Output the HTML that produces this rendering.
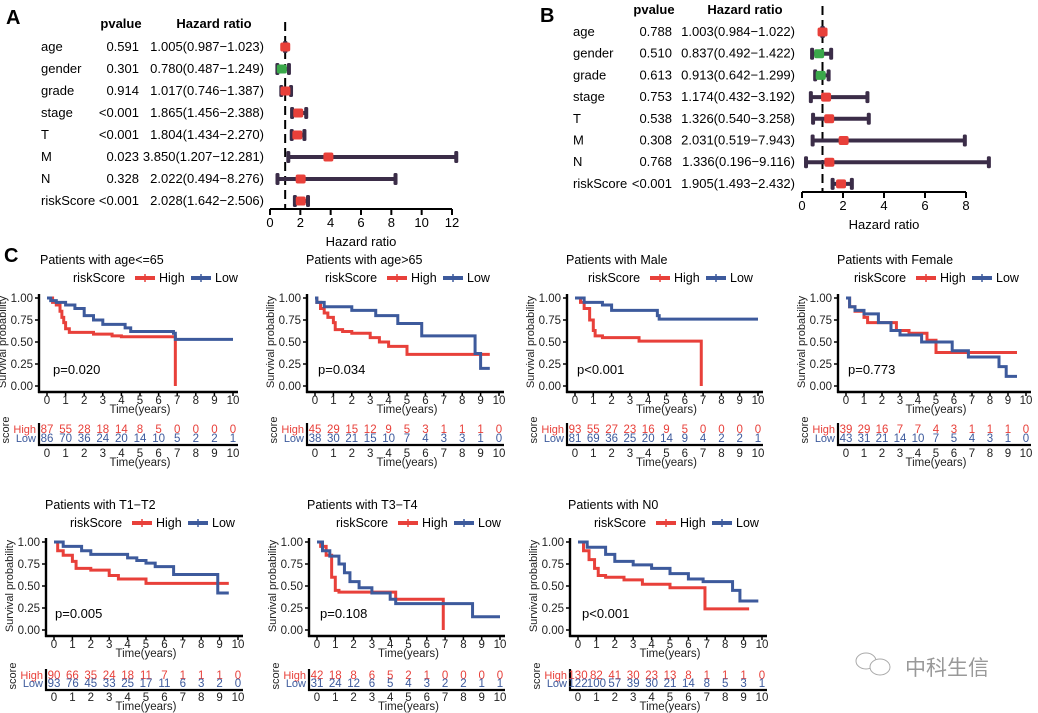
<!DOCTYPE html>
<html><head><meta charset="utf-8"><style>
html,body{margin:0;padding:0;background:#fff;}
svg{display:block;font-family:"Liberation Sans","Noto Sans CJK SC",sans-serif;}
</style></head><body>
<svg id="fig" width="1038" height="713" viewBox="0 0 1038 713" xmlns="http://www.w3.org/2000/svg"></svg>
<script>
// ---------- Forest data ----------
const forestVars = ["age","gender","grade","stage","T","M","N","riskScore"];
const aPvals = ["0.591","0.301","0.914","<0.001","<0.001","0.023","0.328","<0.001"];
const aHR = [1.005,0.780,1.017,1.865,1.804,3.850,2.022,2.028];
const aLo = [0.987,0.487,0.746,1.456,1.434,1.207,0.494,1.642];
const aHi = [1.023,1.249,1.387,2.388,2.270,12.281,8.276,2.506];
const aTicks = [0,2,4,6,8,10,12];
const bPvals = ["0.788","0.510","0.613","0.753","0.538","0.308","0.768","<0.001"];
const bHR = [1.003,0.837,0.913,1.174,1.326,2.031,1.336,1.905];
const bLo = [0.984,0.492,0.642,0.432,0.540,0.519,0.196,1.493];
const bHi = [1.022,1.422,1.299,3.192,3.258,7.943,9.116,2.432];
const bTicks = [0,2,4,6,8];

// ---------- KM data ----------
const kmTitles = ["Patients with age<=65","Patients with age>65","Patients with Male","Patients with Female","Patients with T1\u2212T2","Patients with T3\u2212T4","Patients with N0"];
const kmPvals = ["p=0.020","p=0.034","p<0.001","p=0.773","p=0.005","p=0.108","p<0.001"];
const highT = [
 [0,0.3,0.5,0.7,0.8,0.9,1.0,1.2,2.5,3.5,4.0,6.9,6.9],
 [0,0.1,0.3,0.5,0.7,1.0,1.1,1.5,2.0,3.0,3.5,4.0,5.0,9.5],
 [0,0.3,0.5,0.8,1.0,1.1,1.5,3.5,6.9,6.9],
 [0,0.2,0.5,1.0,1.2,2.0,2.8,3.5,4.5,5.0,9.5],
 [0,0.2,0.5,1.0,1.2,2.0,3.0,3.5,5.0,9.5],
 [0,0.2,0.5,0.8,1.0,1.2,4.3,6.9,6.9],
 [0,0.3,0.6,0.9,1.1,1.5,2.5,3.5,5.0,6.9,9.3]];
const highS = [
 [1,0.95,0.92,0.85,0.78,0.72,0.65,0.61,0.59,0.57,0.56,0.56,0.0],
 [1,0.95,0.88,0.83,0.78,0.72,0.64,0.62,0.60,0.55,0.50,0.45,0.36,0.36],
 [1,0.95,0.88,0.75,0.63,0.57,0.55,0.51,0.50,0.0],
 [1,0.90,0.85,0.78,0.72,0.72,0.63,0.60,0.52,0.38,0.38],
 [1,0.90,0.85,0.78,0.70,0.68,0.62,0.58,0.53,0.53],
 [1,0.95,0.85,0.60,0.45,0.43,0.35,0.35,0.0],
 [1,0.90,0.80,0.70,0.62,0.60,0.57,0.52,0.48,0.24,0.24]];
const lowT = [
 [0,0.2,0.5,1.0,1.5,2.0,2.5,3.0,4.2,4.5,6.8,6.9,10],
 [0,0.1,0.5,2.0,3.3,4.5,5.8,8.7,9.0,9.5],
 [0,0.5,1.5,2.0,4.5,4.6,10],
 [0,0.2,0.5,1.0,1.8,2.5,3.0,4.2,5.9,6.8,8.5,8.9,9.5],
 [0,0.5,1.5,2.0,4.0,4.5,5.0,5.5,6.5,8.9,9.5],
 [0,0.3,0.7,1.2,1.5,1.8,2.3,3.0,4.0,4.3,8.5,10],
 [0,0.5,1.5,2.0,3.0,4.0,5.0,6.0,6.8,8.4,8.8,9.8]];
const lowS = [
 [1,0.97,0.95,0.92,0.88,0.80,0.75,0.70,0.66,0.62,0.60,0.53,0.53],
 [1,0.95,0.90,0.86,0.80,0.71,0.57,0.37,0.20,0.20],
 [1,0.95,0.92,0.86,0.80,0.76,0.76],
 [1,0.90,0.86,0.82,0.72,0.63,0.58,0.50,0.40,0.33,0.22,0.11,0.11],
 [1,0.95,0.90,0.86,0.82,0.79,0.76,0.72,0.63,0.42,0.42],
 [1,0.90,0.84,0.75,0.65,0.55,0.48,0.42,0.35,0.30,0.15,0.15],
 [1,0.94,0.86,0.78,0.74,0.70,0.64,0.58,0.55,0.45,0.33,0.33]];
const riskHigh = [
 [87,55,28,18,14,8,5,0,0,0,0],
 [45,29,15,12,9,5,3,1,1,1,0],
 [93,55,27,23,16,9,5,0,0,0,0],
 [39,29,16,7,7,4,3,1,1,1,0],
 [90,66,35,24,18,11,7,1,1,1,0],
 [42,18,8,6,5,2,1,0,0,0,0],
 [130,82,41,30,23,13,8,1,1,1,0]];
const riskLow = [
 [86,70,36,24,20,14,10,5,2,2,1],
 [38,30,21,15,10,7,4,3,3,1,0],
 [81,69,36,25,20,14,9,4,2,2,1],
 [43,31,21,14,10,7,5,4,3,1,0],
 [93,76,45,33,25,17,11,6,3,2,0],
 [31,24,12,6,5,4,3,2,2,1,1],
 [122,100,57,39,30,21,14,8,5,3,1]];
const timeTicks = [0,1,2,3,4,5,6,7,8,9,10];
const survTicks = [0,0.25,0.5,0.75,1];

// ---------- helpers ----------
const NS="http://www.w3.org/2000/svg";
const svg=document.getElementById('fig');
function mk(tag, attrs, parent, txt){
  const e=document.createElementNS(NS,tag);
  for(const k in attrs) e.setAttribute(k,attrs[k]);
  if(txt!==undefined) e.textContent=txt;
  (parent||svg).appendChild(e);
  return e;
}
const RED="#e8403a", BLUE="#3d5a9c", DARK="#3b2d48", GREEN="#3aa84a";

// ---------- panel letters ----------
[["A",6,24],["B",540,22],["C",4,262]].forEach(l=>{
  const t=mk('text',{x:l[1],y:l[2],'font-size':20,'font-weight':'bold'},svg,l[0]);
  
  
});

// ---------- forest plot ----------
function forest(cfg){
  const g=mk('g',{});
  
  
  const x=v=>cfg.x0+v*(cfg.x1-cfg.x0)/cfg.max;
  const h1=mk('text',{x:cfg.pvX-18,y:cfg.headY,'font-size':13,'font-weight':'bold','text-anchor':'middle'},g,'pvalue');
  
  
  const h2=mk('text',{x:cfg.hrX-50,y:cfg.headY,'font-size':13,'font-weight':'bold','text-anchor':'middle'},g,'Hazard ratio');
  
  
  const dl=mk('line',{x1:x(1),x2:x(1),y1:cfg.dashTop,y2:cfg.axisY,stroke:'#000','stroke-width':2,'stroke-dasharray':'9,5'},g);
  
  
  forestVars.forEach((v,i)=>{
    const y=cfg.rowY0+i*cfg.rowStep;
    const r=mk('g',{},g);
    
    
    mk('text',{x:cfg.labX,y:y+4,'font-size':13},r,v);
    mk('text',{x:cfg.pvX,y:y+4,'font-size':13,'text-anchor':'end'},r,cfg.pv[i]);
    mk('text',{x:cfg.hrX,y:y+4,'font-size':13,'text-anchor':'end'},r,
      cfg.hr[i].toFixed(3)+'('+cfg.lo[i].toFixed(3)+'\u2212'+cfg.hi[i].toFixed(3)+')');
    const ln=mk('line',{x1:x(cfg.lo[i]),x2:x(cfg.hi[i]),y1:y,y2:y,stroke:DARK,'stroke-width':4},r);
    
    
    [cfg.lo[i],cfg.hi[i]].forEach(c=>{
      mk('rect',{x:x(c)-2,y:y-6,width:4,height:12,rx:1.5,fill:DARK},r);
    });
    const pt=mk('rect',{x:x(cfg.hr[i])-5,y:y-4.5,width:10,height:9,rx:2,fill:cfg.hr[i]<1?GREEN:RED},r);
    
    
  });
  const ax=mk('g',{},g);
  
  
  mk('line',{x1:x(0),x2:x(cfg.max),y1:cfg.axisY,y2:cfg.axisY,stroke:'#000','stroke-width':2},ax);
  cfg.ticks.forEach(t=>{
    mk('line',{x1:x(t),x2:x(t),y1:cfg.axisY,y2:cfg.axisY+6,stroke:'#000','stroke-width':2},ax);
    mk('text',{x:x(t),y:cfg.axisY+18,'font-size':13,'text-anchor':'middle'},ax,String(t));
  });
  const tt=mk('text',{x:(x(0)+x(cfg.max))/2,y:cfg.axisY+37,'font-size':13,'text-anchor':'middle'},g,'Hazard ratio');
  
  
}
forest({id:'a',x0:270,x1:452,max:12,ticks:aTicks,axisY:209,rowY0:47,rowStep:22.0,labX:41,pvX:139,hrX:264,headY:28,dashTop:22,pv:aPvals,hr:aHR,lo:aLo,hi:aHi});
forest({id:'b',x0:802,x1:966,max:8,ticks:bTicks,axisY:192,rowY0:32,rowStep:21.7,labX:573,pvX:672,hrX:795,headY:14,dashTop:6,pv:bPvals,hr:bHR,lo:bLo,hi:bHi});

// ---------- KM panels ----------
const kmLayout=[
 {x0:47,x1:233,row:0,tx:40,lx:73,px:53},
 {x0:315,x1:499,row:0,tx:306,lx:325,px:318},
 {x0:575,x1:758,row:0,tx:566,lx:588,px:577},
 {x0:846,x1:1026,row:0,tx:837,lx:854,px:848},
 {x0:54,x1:238,row:1,tx:45,lx:70,px:55},
 {x0:317,x1:500,row:1,tx:307,lx:336,px:320},
 {x0:578,x1:762,row:1,tx:568,lx:594,px:582}];
const rowY=[
 {title:264,leg:282,y1:298,y0:386,axB:392,tick:404,time:413,hi:433,lo:442,rax:445,rtick:457,rtime:466,pY:374},
 {title:509,leg:527,y1:542,y0:630,axB:636,tick:648,time:657,hi:679,lo:687,rax:690,rtick:701,rtime:710,pY:618}];

function stepPath(T,S,xf,yf){
  let d='M'+xf(T[0])+','+yf(S[0]);
  for(let k=1;k<T.length;k++){
    d+=' H'+xf(T[k])+' V'+yf(S[k]);
  }
  return d;
}
kmLayout.forEach((L,i)=>{
  const R=rowY[L.row];
  const g=mk('g',{});
  
  
  const xf=t=>L.x0+t*(L.x1-L.x0)/10;
  const yf=s=>R.y0-s*(R.y0-R.y1);
  const ti=mk('text',{x:L.tx,y:R.title,'font-size':12.5},g,kmTitles[i]);
  
  
  const lg=mk('g',{},g);
  
  
  mk('text',{x:L.lx,y:R.leg,'font-size':12.5},lg,'riskScore');
  mk('line',{x1:L.lx+62,x2:L.lx+82,y1:R.leg-4,y2:R.leg-4,stroke:RED,'stroke-width':4},lg);
  mk('line',{x1:L.lx+72,x2:L.lx+72,y1:R.leg-8,y2:R.leg,stroke:RED,'stroke-width':1.5},lg);
  mk('text',{x:L.lx+86,y:R.leg,'font-size':12.5},lg,'High');
  mk('line',{x1:L.lx+118,x2:L.lx+138,y1:R.leg-4,y2:R.leg-4,stroke:BLUE,'stroke-width':4},lg);
  mk('line',{x1:L.lx+128,x2:L.lx+128,y1:R.leg-8,y2:R.leg,stroke:BLUE,'stroke-width':1.5},lg);
  mk('text',{x:L.lx+142,y:R.leg,'font-size':12.5},lg,'Low');
  const ax=mk('g',{},g);
  
  
  const axL=L.x0-8;
  mk('line',{x1:axL,x2:axL,y1:R.y1-4,y2:R.axB+1,stroke:'#000','stroke-width':2.4},ax);
  mk('line',{x1:axL-1,x2:L.x1+5,y1:R.axB,y2:R.axB,stroke:'#000','stroke-width':2.4},ax);
  survTicks.forEach(s=>{
    mk('line',{x1:axL-4,x2:axL,y1:yf(s),y2:yf(s),stroke:'#000','stroke-width':1.5},ax);
    mk('text',{x:axL-6,y:yf(s)+4,'font-size':11.5,'text-anchor':'end','fill':'#222'},ax,s.toFixed(2));
  });
  timeTicks.forEach(t=>{
    mk('line',{x1:xf(t),x2:xf(t),y1:R.axB,y2:R.axB+4,stroke:'#000','stroke-width':1.5},ax);
    mk('text',{x:xf(t),y:R.tick,'font-size':11.5,'text-anchor':'middle','fill':'#222'},ax,String(t));
  });
  mk('text',{x:(L.x0+L.x1)/2,y:R.time,'font-size':11.5,'text-anchor':'middle','fill':'#222'},ax,'Time(years)');
  const yt=mk('text',{x:0,y:0,'font-size':11,'text-anchor':'middle','fill':'#222',transform:'translate('+(axL-33)+','+((R.y0+R.y1)/2)+') rotate(-90)'},g,'Survival probability');
  
  
  const ch=mk('path',{d:stepPath(highT[i],highS[i],xf,yf),fill:'none',stroke:RED,'stroke-width':3},g);
  
  
  const cl=mk('path',{d:stepPath(lowT[i],lowS[i],xf,yf),fill:'none',stroke:BLUE,'stroke-width':3},g);
  
  
  const pv=mk('text',{x:L.px,y:R.pY,'font-size':13},g,kmPvals[i]);
  
  
  const rt=mk('g',{},g);
  
  
  mk('text',{x:axL-3,y:R.hi,'font-size':11,'text-anchor':'end',fill:RED},rt,'High');
  mk('text',{x:axL-3,y:R.lo,'font-size':11,'text-anchor':'end',fill:BLUE},rt,'Low');
  mk('text',{x:0,y:0,'font-size':11,'text-anchor':'middle',fill:'#222',transform:'translate('+(axL-30)+','+(R.hi-3)+') rotate(-90)'},rt,'score');
  mk('line',{x1:axL,x2:axL,y1:R.hi-10,y2:R.rax+1,stroke:'#000','stroke-width':2.2},rt);
  mk('line',{x1:axL-1,x2:L.x1+5,y1:R.rax,y2:R.rax,stroke:'#000','stroke-width':2.2},rt);
  timeTicks.forEach((t,k)=>{
    mk('text',{x:xf(t),y:R.hi,'font-size':11.5,'text-anchor':'middle',fill:RED},rt,String(riskHigh[i][k]));
    mk('text',{x:xf(t),y:R.lo,'font-size':11.5,'text-anchor':'middle',fill:BLUE},rt,String(riskLow[i][k]));
    mk('text',{x:xf(t),y:R.rtick,'font-size':11.5,'text-anchor':'middle',fill:'#222'},rt,String(t));
  });
  mk('text',{x:(L.x0+L.x1)/2,y:R.rtime,'font-size':11.5,'text-anchor':'middle',fill:'#222'},rt,'Time(years)');
});

// ---------- watermark ----------
const wm=mk('g',{});


mk('ellipse',{cx:866,cy:661,rx:10,ry:8,fill:'none',stroke:'#aaa','stroke-width':1},wm);
mk('ellipse',{cx:880,cy:667,rx:10,ry:8,fill:'#fff',stroke:'#aaa','stroke-width':1},wm);
mk('text',{x:905,y:675,'font-size':21,fill:'#999'},wm,'中科生信');
</script>
</body></html>
